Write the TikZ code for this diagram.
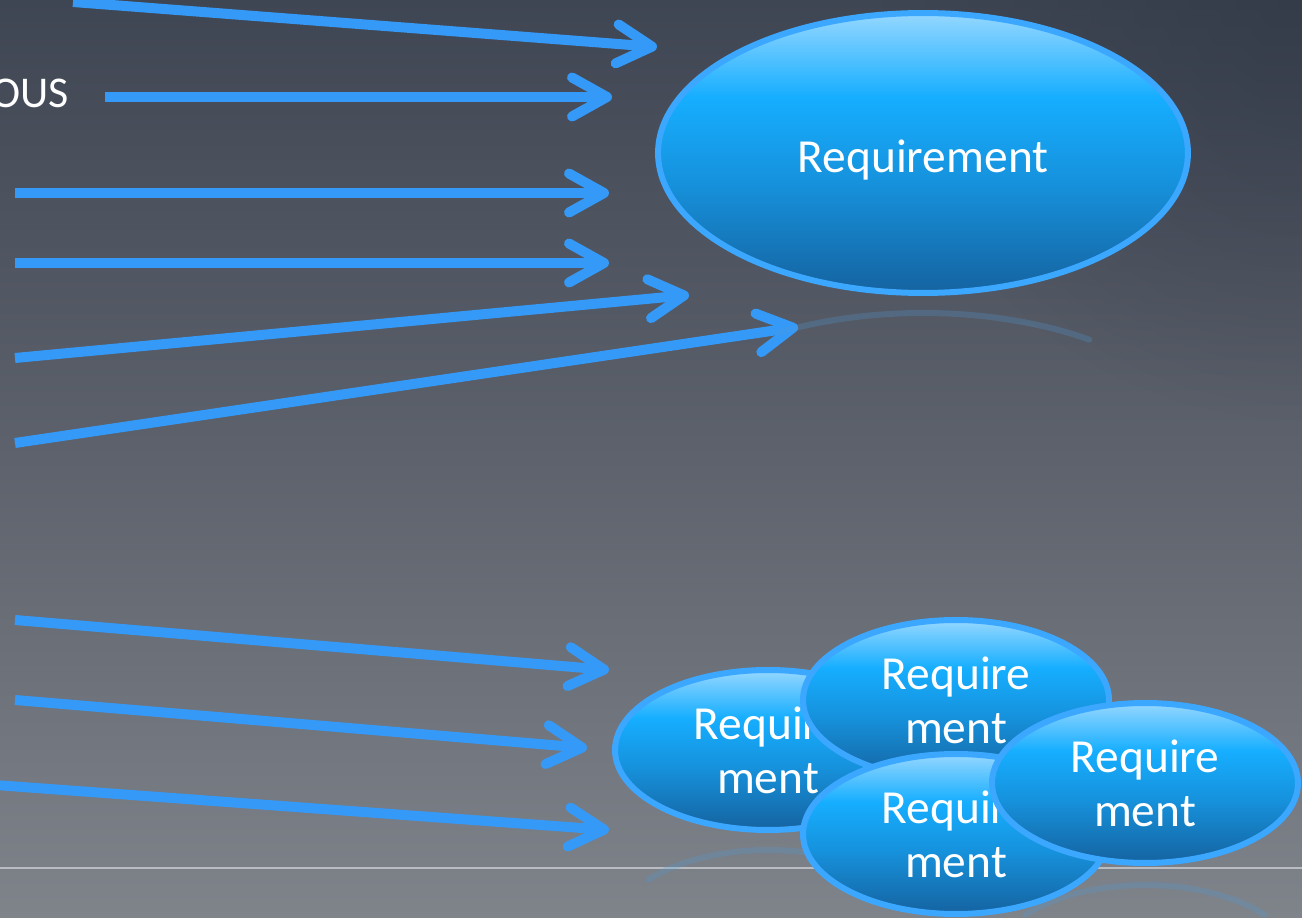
\documentclass[tikz,border=0pt]{standalone}
\usepackage{fontspec}
\setmainfont{Carlito}
\usetikzlibrary{arrows.meta,shapes.geometric,fadings}

\definecolor{bgtop}{HTML}{3F4653}
\definecolor{bgmid}{HTML}{5D626C}
\definecolor{bgbot}{HTML}{7F838A}
\definecolor{bgcorner}{HTML}{2A3140}
\definecolor{feedblue}{HTML}{3599F7}
\definecolor{reqedge}{HTML}{3BA7FF}
\definecolor{reqtop}{HTML}{95D7FF}
\definecolor{reqbright}{HTML}{16AEFF}
\definecolor{reqmid}{HTML}{1692DD}
\definecolor{reqbot}{HTML}{1563A0}
\definecolor{floorline}{HTML}{B9BDC1}

\pgfdeclareverticalshading{reqshade}{100bp}{color(0bp)=(reqbot); color(25bp)=(reqbot); color(45bp)=(reqmid); color(60bp)=(reqbright); color(75bp)=(reqtop); color(100bp)=(reqtop)}
\pgfdeclareverticalshading{backdrop}{100bp}{color(0bp)=(bgbot); color(25bp)=(bgbot); color(50bp)=(bgmid); color(75bp)=(bgtop); color(100bp)=(bgtop)}
\tikzfading[name=corner, inner color=transparent!0, outer color=transparent!100]

\tikzset{
  feed/.style={draw=feedblue, line width=0.2cm,
    -{Straight Barb[length=0.7cm, width=0.78cm, round]}},
  req/.style={ellipse, draw=reqedge, line width=0.12cm, shade, shading=reqshade,
    text=white, inner sep=0pt, align=center,
    font=\fontsize{27}{31}\selectfont},
  bigreq/.style={req, minimum width=10.6cm, minimum height=5.6cm,
    text height=0.8cm, text depth=0pt},
  smallreq/.style={req, minimum width=6.12cm, minimum height=3.2cm,
    text depth=-0.2cm},
  refl/.style={draw=reqedge!70!gray, line width=0.12cm, opacity=0.25, line cap=round},
}

\begin{document}
\begin{tikzpicture}[x=0.02cm, y=-0.02cm]
  \useasboundingbox (0,0) rectangle (1302,918);
  \clip (0,0) rectangle (1302,918);
  \shade[shading=backdrop] (0,0) rectangle (1302,918);
  \fill[bgcorner, opacity=0.5, path fading=corner] (1302,0) circle (420);
  \draw[floorline, line width=0.04cm] (0,868) -- (1302,868);

  % left hand labels, cut by the page edge
  \node[anchor=base east, text=white, font=\fontsize{25}{29}\selectfont] (ous) at (75,108) {OUS};

  % arrows into the requirement(s)
  \foreach \i/\sx/\sy/\ex/\ey in {1/73/2/657/47, 2/105/97/612/97, 3/15/193/609/193,
      4/15/263/609/263, 5/15/358/689/295, 6/15/443/798/327,
      7/15/620/609/670, 8/15/700/587/748, 9/-5/785/609/830} {
    \coordinate (s\i) at (\sx,\sy);
    \coordinate (e\i) at (\ex,\ey);
    \draw[feed] (s\i) -- (e\i);
  }

  % reflections
  \draw[refl] (923,460) ++(240:290 and 147) arc[start angle=240, end angle=305, x radius=290, y radius=147];
  \draw[refl] (768,933) ++(220:156 and 83) arc[start angle=220, end angle=320, x radius=156, y radius=83];
  \draw[refl] (1145,968) ++(220:156 and 83) arc[start angle=220, end angle=320, x radius=156, y radius=83];

  \node[bigreq] (req) at (923,153) {Requirement};

  \node[smallreq] (reqa) at (768,750) {Require\\ment};
  \node[smallreq] (reqb) at (956,700) {Require\\ment};
  \node[smallreq] (reqc) at (956,834) {Require\\ment};
  \node[smallreq] (reqd) at (1145,783) {Require\\ment};
\end{tikzpicture}
\end{document}
